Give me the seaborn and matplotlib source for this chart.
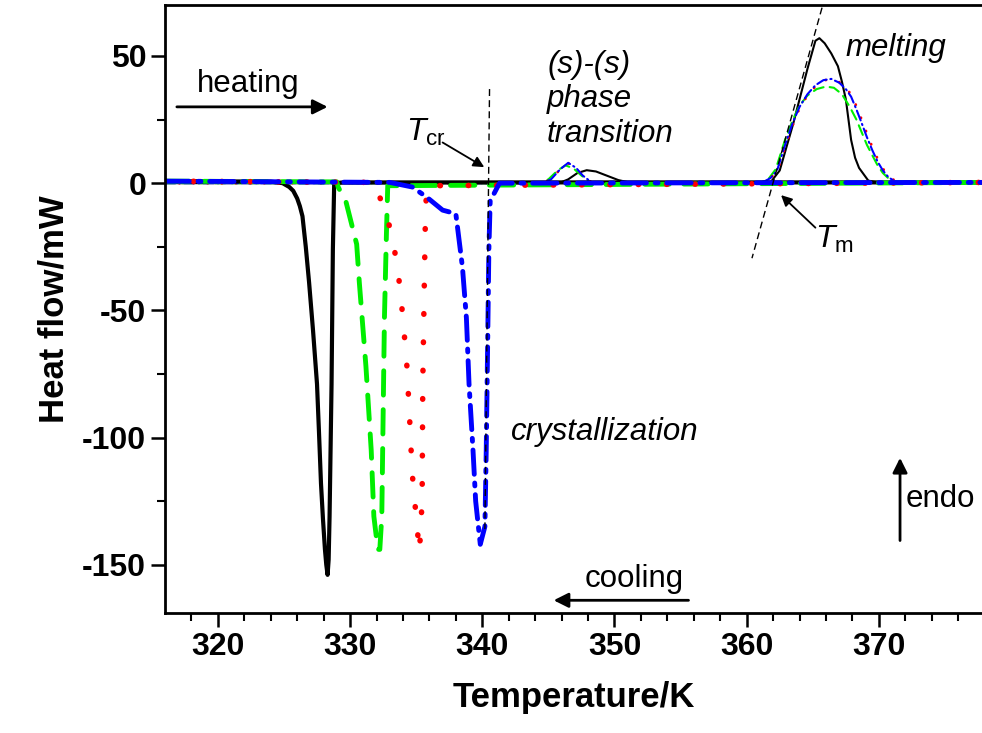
import matplotlib
matplotlib.use("Agg")
import matplotlib.pyplot as plt
import seaborn as sns
import pandas as pd

# --- cooling runs (crystallization) ---
black_cool_T = [316, 324.0, 324.9, 325.4, 325.7, 326.0, 326.2, 326.4, 326.65, 326.9, 327.2,
                327.5, 327.65, 327.8, 327.95, 328.1, 328.2, 328.3, 328.38,
                328.45, 328.6, 328.7, 328.8, 329.5, 378]
black_cool_Q = [0.8, 0.6, 0, -1.5, -3, -6, -9, -13, -25, -39, -58,
                -79, -98, -118, -132, -144, -150, -154, -148,
                -131, -79, -26, 0, 0.3, 0.3]

green_cool_T = [316, 329.0, 329.1, 329.7, 330.5, 330.7, 331.2, 331.6, 331.8, 332.1, 332.25,
                332.4, 332.5, 332.6, 332.75, 332.85, 378]
green_cool_Q = [0.8, 0.5, -1.5, -7.5, -24, -39, -72, -105, -131, -144, -144,
                -131, -92, -53, -20, -1, 0.3]

red_cool_T = [316, 331.9, 332.1, 332.8, 333.2, 333.6, 334.0, 334.3, 334.5, 334.7, 335.1,
              335.25, 335.45, 335.5, 335.6, 335.7, 335.8, 378]
red_cool_Q = [0.8, 0.3, -3.5, -13, -22, -33, -53, -72, -92, -114, -137,
              -145, -125, -79, -45, -13, -1, 0.3]

blue_cool_T = [316, 333.0, 334.7, 335.8, 337.0, 338.0, 338.5, 338.8, 339.0, 339.3, 339.5,
               339.85, 339.95, 340.2, 340.3, 340.4, 340.5, 340.6, 341.3, 378]
blue_cool_Q = [0.8, 0.3, -1.5, -5.5, -10.6, -12, -33, -53, -79, -105, -125,
               -142, -140, -135, -105, -66, -26, -7, 0, 0.3]

# --- heating runs ((s)-(s) transition + melting) ---
black_heat_T = [316, 345.8, 346.5, 347.2, 347.9, 348.6, 349.5, 350.3, 351.2, 361.8, 362.5,
                363.0, 363.5, 364.0, 364.6, 365.2, 365.5, 365.9, 366.4, 366.9, 367.2,
                367.5, 367.9, 368.2, 368.5, 369.2, 370.0, 378]
black_heat_Q = [0, 0, 1.5, 4, 5.1, 4.6, 2.8, 1.2, 0.2, 0.3, 5,
                14, 23, 33, 45, 56, 57, 55, 51, 46, 40,
                33, 17, 10, 6, 1, 0.2, 0]

green_heat_T = [316, 344.3, 345.0, 345.7, 346.3, 346.9, 347.5, 348.2, 361.1, 361.7, 362.2,
                362.9, 363.5, 364.0, 364.6, 365.3, 366.0, 366.6, 367.2, 367.8, 368.3,
                368.7, 369.1, 369.5, 369.9, 370.3, 370.8, 371.4, 378]
green_heat_Q = [0, 0, 1.5, 5, 7, 5.8, 3, 0.2, 0.3, 2, 5.5,
                17, 25, 30.5, 34.5, 37, 38, 37.5, 35, 30, 25,
                20, 15, 11, 7, 4, 1.5, 0.2, 0]

red_heat_T = [316, 344.5, 345.2, 345.9, 346.5, 347.1, 347.6, 348.3, 361.2, 361.8, 362.3,
              362.9, 363.5, 364.0, 364.6, 365.2, 365.9, 366.5, 367.1, 367.6, 368.0,
              368.4, 368.8, 369.2, 369.6, 370.0, 370.4, 370.8, 371.2, 371.7, 378]
red_heat_Q = [0, 0, 1.5, 5.5, 7.8, 6, 3, 0.2, 0.3, 2, 4.5,
              14, 23, 29.5, 34.5, 38, 40.5, 40.8, 39.5, 37, 34,
              29, 23.6, 18, 13, 8.5, 5, 2.5, 1, 0.2, 0]

blue_heat_T = [316, 344.5, 345.2, 345.9, 346.5, 347.1, 347.6, 348.3, 361.2, 361.8, 362.3,
               362.9, 363.5, 364.0, 364.6, 365.2, 365.8, 366.4, 367.0, 367.5, 367.9,
               368.3, 368.7, 369.1, 369.5, 369.9, 370.3, 370.7, 371.1, 371.6, 378]
blue_heat_Q = [0, 0, 1.5, 5.5, 8, 6, 3, 0.2, 0.3, 2, 5,
               15, 24, 30, 35, 38.5, 40.5, 41, 39.5, 37, 34,
               29, 23.6, 18, 13, 8.5, 5, 2.5, 1, 0.2, 0]

# construction lines for onset temperatures
tcr_line_T = [340.55, 340.2]
tcr_line_Q = [37, -136]
tm_line_T = [365.7, 360.4]
tm_line_Q = [69, -29.5]

sns.set_style("ticks")
plt.rcParams["font.family"] = ["Liberation Sans", "DejaVu Sans"]
plt.rcParams["mathtext.fontset"] = "custom"
plt.rcParams["mathtext.rm"] = "Liberation Sans"
plt.rcParams["mathtext.it"] = "Liberation Sans:italic"
plt.rcParams["axes.unicode_minus"] = False
for k in ["text.color", "axes.labelcolor", "xtick.color", "ytick.color", "axes.edgecolor"]:
    plt.rcParams[k] = "black"

fig = plt.figure(figsize=(9.82, 7.33), dpi=100)
ax = fig.add_axes([0.168, 0.1637, 0.832, 0.8293])

GREEN, RED, BLUE = "#00ee00", "#ff0000", "#0000ff"
dash_g = (0, (5, 3))
dot_r = (0, (0.1, 5))
dashdot_b = (0, (5, 1.8, 0.6, 1.8))

curves = [
    (black_heat_T, black_heat_Q, "black", "-", 1.5),
    (green_heat_T, green_heat_Q, GREEN, dash_g, 1.5),
    (red_heat_T, red_heat_Q, RED, dot_r, 2.0),
    (blue_heat_T, blue_heat_Q, BLUE, dashdot_b, 1.5),
    (black_cool_T, black_cool_Q, "black", "-", 3.0),
    (green_cool_T, green_cool_Q, GREEN, dash_g, 3.5),
    (red_cool_T, red_cool_Q, RED, dot_r, 4.0),
    (blue_cool_T, blue_cool_Q, BLUE, dashdot_b, 3.5),
]
for xs, ys, col, ls, lw in curves:
    df = pd.DataFrame({"T": xs, "Q": ys})
    sns.lineplot(data=df, x="T", y="Q", sort=False, estimator=None, ax=ax,
                 color=col, linestyle=ls, linewidth=lw, dash_capstyle="round")

ax.plot(tcr_line_T, tcr_line_Q, color="black", lw=1.0, linestyle=(0, (5, 3)))
ax.plot(tm_line_T, tm_line_Q, color="black", lw=1.0, linestyle=(0, (5, 3)))

ax.set_xlim(316, 377.8)
ax.set_ylim(-169, 70)
ax.set_xticks([320, 330, 340, 350, 360, 370])
ax.set_xticks([318 + 2 * i for i in range(30)], minor=True)
ax.set_yticks([-150, -100, -50, 0, 50])
ax.set_yticks([-150 + 25 * i for i in range(9)], minor=True)
ax.tick_params(which="major", length=10, width=1.8, labelsize=23, direction="out")
ax.tick_params(which="minor", length=6, width=1.5, direction="out")
for lab in ax.get_xticklabels() + ax.get_yticklabels():
    lab.set_fontweight("bold")
for s in ["left", "bottom", "top"]:
    ax.spines[s].set_linewidth(2)
ax.spines["right"].set_visible(False)

ax.set_xlabel("Temperature/K", fontsize=25, fontweight="bold", labelpad=14)
ax.set_ylabel("Heat flow/mW", fontsize=25, fontweight="bold", labelpad=8)

arrow = dict(arrowstyle="-|>", color="black", lw=2, mutation_scale=22, shrinkA=0, shrinkB=0)
thin_arrow = dict(arrowstyle="-|>", color="black", lw=1.3, mutation_scale=16, shrinkA=0, shrinkB=0)

fs = 22.5
ax.text(322.3, 39, "heating", fontsize=fs, ha="center", va="center")
ax.annotate("", xy=(328.3, 30), xytext=(316.9, 30), arrowprops=arrow)

ax.text(351.5, -155.5, "cooling", fontsize=fs, ha="center", va="center")
ax.annotate("", xy=(345.4, -164), xytext=(355.6, -164), arrowprops=arrow)

ax.text(372.0, -124, "endo", fontsize=fs, ha="left", va="center")
ax.annotate("", xy=(371.6, -108), xytext=(371.6, -140.5), arrowprops=arrow)

ax.text(342.2, -98, "crystallization", fontsize=fs, style="italic", ha="left", va="center")
ax.text(344.9, 33, "(s)-(s)\nphase\ntransition", fontsize=fs, style="italic",
        ha="left", va="center", linespacing=1.2)
ax.text(367.5, 53, "melting", fontsize=fs, style="italic", ha="left", va="center")

ax.text(334.2, 20, r"$T_{\mathrm{cr}}$", fontsize=23, ha="left", va="center")
ax.annotate("", xy=(340.15, 6.3), xytext=(337.0, 16), arrowprops=thin_arrow)

ax.text(365.2, -22, r"$T_{\mathrm{m}}$", fontsize=23, ha="left", va="center")
ax.annotate("", xy=(362.6, -4.7), xytext=(365.2, -17.5), arrowprops=thin_arrow)

fig.savefig("out.png", dpi=100)
